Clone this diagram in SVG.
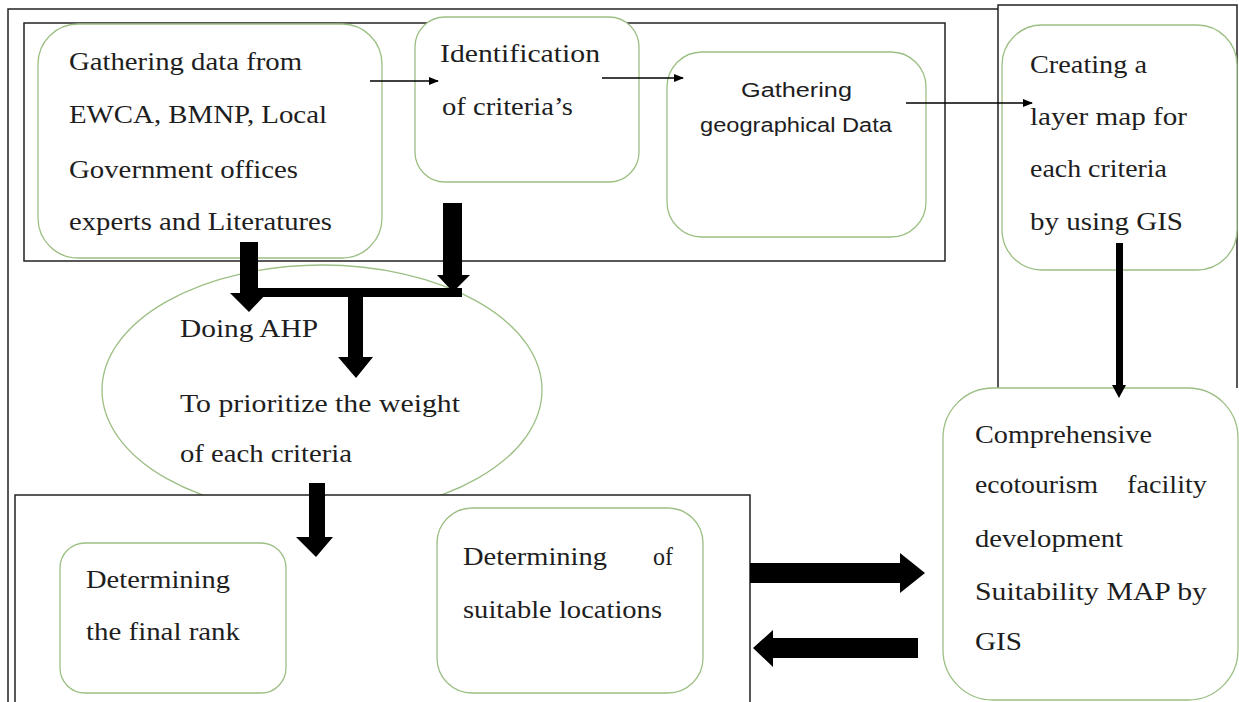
<svg xmlns="http://www.w3.org/2000/svg" width="1239" height="702" viewBox="0 0 1239 702">
<defs>
<marker id="ah" markerWidth="10" markerHeight="8" refX="9" refY="4" orient="auto" markerUnits="userSpaceOnUse">
<path d="M0,0 L10,4 L0,8 Z" fill="#000"/>
</marker>
<style>
.frame{fill:none;stroke:#222;stroke-width:1.5}
.framew{fill:#fff;stroke:#222;stroke-width:1.5}
.node{fill:#fff;stroke:#9cbf84;stroke-width:1.3}
.t{font-family:"Liberation Serif","Times New Roman",serif;font-size:26px;fill:#1e1e1e}
.s{font-family:"Liberation Sans",Arial,sans-serif;font-size:20px;fill:#1e1e1e}
.thin{stroke:#000;stroke-width:1.6;fill:none}
.thick{fill:#000}
</style>
</defs>
<rect width="1239" height="702" fill="#fff"/>
<g id="frames">
<path class="frame" d="M998,9 H8 V702"/>
<path class="frame" d="M998,388 V5 H1237 V388"/>
<rect class="frame" x="24" y="23" width="921" height="238"/>
</g>
<g id="n-gather">
<rect class="node" x="38" y="24" width="344" height="234" rx="40"/>
<text class="t" x="69" y="70" textLength="233" lengthAdjust="spacingAndGlyphs">Gathering data from</text>
<text class="t" x="69" y="123" textLength="258" lengthAdjust="spacingAndGlyphs">EWCA, BMNP, Local</text>
<text class="t" x="69" y="178" textLength="229" lengthAdjust="spacingAndGlyphs">Government offices</text>
<text class="t" x="69" y="230" textLength="263" lengthAdjust="spacingAndGlyphs">experts and Literatures</text>
</g>
<g id="n-ident">
<rect class="node" x="415" y="17" width="224" height="165" rx="30"/>
<text class="t" x="440" y="62" textLength="160" lengthAdjust="spacingAndGlyphs">Identification</text>
<text class="t" x="442" y="115" textLength="131" lengthAdjust="spacingAndGlyphs">of criteria’s</text>
</g>
<g id="n-geo">
<rect class="node" x="667" y="52" width="259" height="185" rx="35"/>
<text class="s" x="741" y="97" textLength="111" lengthAdjust="spacingAndGlyphs">Gathering</text>
<text class="s" x="700" y="132" textLength="192" lengthAdjust="spacingAndGlyphs">geographical Data</text>
</g>
<g id="n-layer">
<rect class="node" x="1002" y="25" width="235" height="245" rx="40"/>
<text class="t" x="1030" y="73" textLength="117" lengthAdjust="spacingAndGlyphs">Creating a</text>
<text class="t" x="1030" y="125" textLength="157" lengthAdjust="spacingAndGlyphs">layer map for</text>
<text class="t" x="1030" y="177" textLength="137" lengthAdjust="spacingAndGlyphs">each criteria</text>
<text class="t" x="1030" y="230" textLength="153" lengthAdjust="spacingAndGlyphs">by using GIS</text>
</g>
<g id="n-ahp">
<ellipse class="node" cx="322" cy="390" rx="220" ry="125"/>
<text class="t" x="180" y="337" textLength="138" lengthAdjust="spacingAndGlyphs">Doing AHP</text>
<text class="t" x="180" y="412" textLength="280" lengthAdjust="spacingAndGlyphs">To prioritize the weight</text>
<text class="t" x="180" y="462" textLength="172" lengthAdjust="spacingAndGlyphs">of each criteria</text>
</g>
<g id="lowerframe">
<path class="framew" d="M15,703 V495 H750 V703"/>
</g>
<g id="n-rank">
<rect class="node" x="60" y="543" width="226" height="150" rx="25"/>
<text class="t" x="86" y="588" textLength="144" lengthAdjust="spacingAndGlyphs">Determining</text>
<text class="t" x="86" y="640" textLength="154" lengthAdjust="spacingAndGlyphs">the final rank</text>
</g>
<g id="n-suitable">
<rect class="node" x="437" y="508" width="266" height="185" rx="35"/>
<text class="t" x="463" y="565" textLength="144" lengthAdjust="spacingAndGlyphs">Determining</text>
<text class="t" x="653" y="565" textLength="20" lengthAdjust="spacingAndGlyphs">of</text>
<text class="t" x="463" y="618" textLength="199" lengthAdjust="spacingAndGlyphs">suitable locations</text>
</g>
<g id="n-map">
<rect class="node" x="943" y="388" width="295" height="312" rx="50"/>
<text class="t" x="975" y="443" textLength="177" lengthAdjust="spacingAndGlyphs">Comprehensive</text>
<text class="t" x="975" y="493" textLength="123" lengthAdjust="spacingAndGlyphs">ecotourism</text>
<text class="t" x="1127" y="493" textLength="80" lengthAdjust="spacingAndGlyphs">facility</text>
<text class="t" x="975" y="547" textLength="148" lengthAdjust="spacingAndGlyphs">development</text>
<text class="t" x="975" y="600" textLength="232" lengthAdjust="spacingAndGlyphs">Suitability MAP by</text>
<text class="t" x="975" y="650" textLength="47" lengthAdjust="spacingAndGlyphs">GIS</text>
</g>
<g id="connectors">
<line class="thin" x1="370" y1="81" x2="438" y2="81" marker-end="url(#ah)"/>
<line class="thin" x1="602" y1="78" x2="683" y2="78" marker-end="url(#ah)"/>
<line class="thin" x1="906" y1="103" x2="1032" y2="103" marker-end="url(#ah)"/>
<path class="thick" d="M240,242 H258 V293 H267 L249,312 L230,293 H240 Z"/>
<path class="thick" d="M443,203 H462 V275 H470 L453,292 L437,275 H443 Z"/>
<rect class="thick" x="247" y="288" width="215" height="9"/>
<path class="thick" d="M348,297 H363 V357 H373 L356,378 L338,357 H348 Z"/>
<path class="thick" d="M309,483 H325 V537 H333 L316,557 L296,537 H309 Z"/>
<path class="thick" d="M1116,243 H1123 V385 H1126 L1119,398 L1112,385 H1116 Z"/>
<path class="thick" d="M750,563 H900 V553 L925,573 L900,593 V583 H750 Z"/>
<path class="thick" d="M918,638 H773 V630 L753,648 L773,667 V658 H918 Z"/>
</g>
</svg>
